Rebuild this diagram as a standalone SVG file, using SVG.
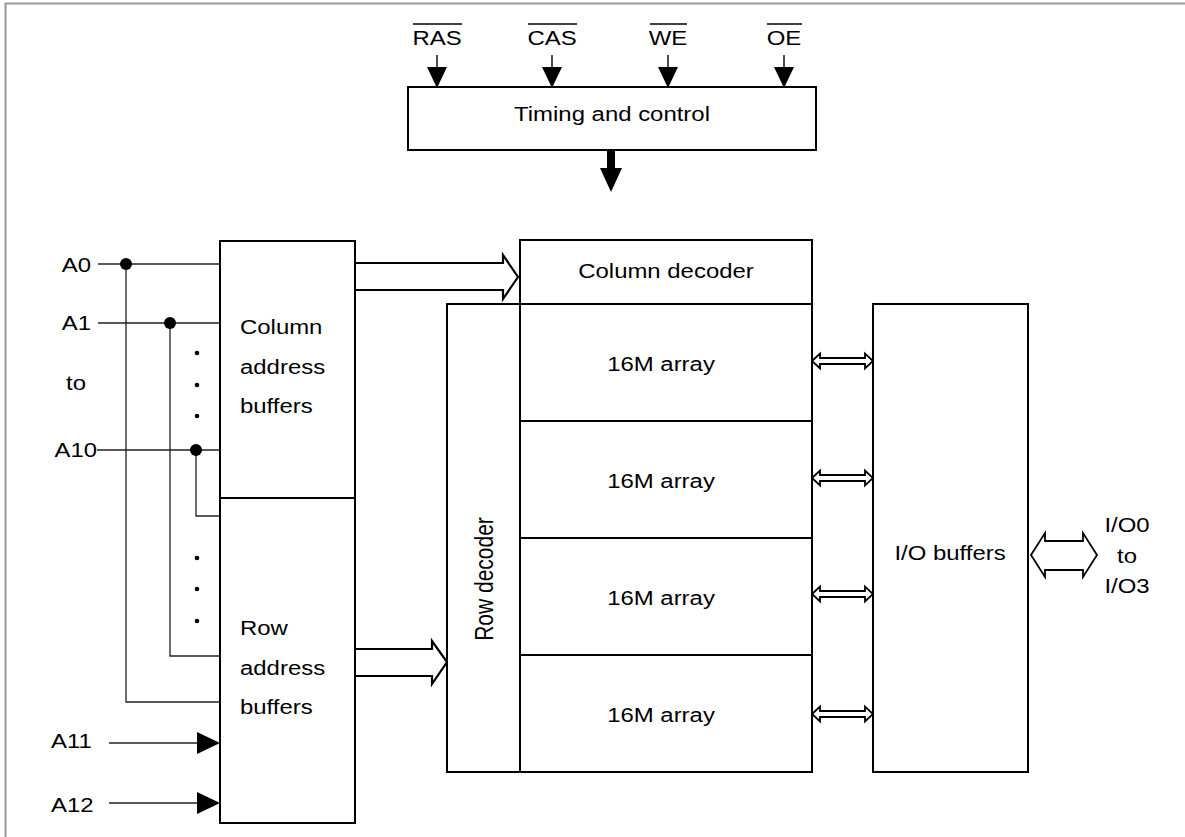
<svg xmlns="http://www.w3.org/2000/svg" width="1185" height="837" viewBox="0 0 1185 837">
<style>
  .box { fill: #fff; stroke: #000; stroke-width: 2; }
  .t { font-family: "Liberation Sans", Arial, Helvetica, sans-serif; font-size: 21px; fill: #000; }
  .m { text-anchor: middle; }
  .e { text-anchor: end; }
  .wire { fill: none; stroke: #222; stroke-width: 1.3; }
  .hollow { fill: none; stroke: #000; stroke-width: 2.2; stroke-linejoin: miter; }
  .bidi { fill: #fff; stroke: #000; stroke-width: 1.8; }
  .solid { fill: #000; stroke: none; }
  .ol { stroke: #000; stroke-width: 1.4; }
</style>
<rect x="0" y="0" width="1185" height="837" fill="#fff"/>
<path d="M5.5 837 V3.5 H1185" fill="none" stroke="#999" stroke-width="2"/>

<g id="connectors">
  <g id="ctrl-in">
    <line x1="437" y1="55" x2="437" y2="68" stroke="#000" stroke-width="1.4"/>
    <polygon class="solid" points="427,67 447,67 437,88"/>
    <line x1="552" y1="55" x2="552" y2="68" stroke="#000" stroke-width="1.4"/>
    <polygon class="solid" points="542,67 562,67 552,88"/>
    <line x1="668" y1="55" x2="668" y2="68" stroke="#000" stroke-width="1.4"/>
    <polygon class="solid" points="658,67 678,67 668,88"/>
    <line x1="784" y1="55" x2="784" y2="68" stroke="#000" stroke-width="1.4"/>
    <polygon class="solid" points="774,67 794,67 784,88"/>
  </g>
  <polygon class="solid" points="607,150 615,150 615,168 622,168 611,192 600,168 607,168"/>
  <path class="wire" d="M98 264 H220 M126 264 V702 H220"/>
  <path class="wire" d="M98 323 H220 M170 323 V656 H220"/>
  <path class="wire" d="M97 450 H220 M196 450 V516 H220"/>
  <circle cx="126" cy="264" r="6" fill="#000"/>
  <circle cx="170" cy="323" r="6" fill="#000"/>
  <circle cx="196" cy="450" r="6" fill="#000"/>
  <g fill="#000">
    <circle cx="197" cy="353" r="2.3"/>
    <circle cx="197" cy="385" r="2.3"/>
    <circle cx="197" cy="416" r="2.3"/>
    <circle cx="197" cy="558" r="2.3"/>
    <circle cx="197" cy="589" r="2.3"/>
    <circle cx="197" cy="621" r="2.3"/>
  </g>
  <line class="wire" x1="109" y1="743" x2="200" y2="743"/>
  <polygon class="solid" points="197,732 220,743 197,754"/>
  <line class="wire" x1="109" y1="803" x2="200" y2="803"/>
  <polygon class="solid" points="197,792 220,803 197,814"/>
  <polyline class="hollow" points="356,263 503,263 503,255 518,277 503,299 503,290 356,290"/>
  <polyline class="hollow" points="356,649 432,649 432,641 447,662 432,684 432,676 356,676"/>
  <polygon class="bidi" points="812,361 820,353.5 820,358 865,358 865,353.5 873,361 865,368.5 865,364 820,364 820,368.5"/>
  <polygon class="bidi" points="812,478 820,470.5 820,475 865,475 865,470.5 873,478 865,485.5 865,481 820,481 820,485.5"/>
  <polygon class="bidi" points="812,594 820,586.5 820,591 865,591 865,586.5 873,594 865,601.5 865,597 820,597 820,601.5"/>
  <polygon class="bidi" points="812,714 820,706.5 820,711 865,711 865,706.5 873,714 865,721.5 865,717 820,717 820,721.5"/>
  <polygon class="bidi" stroke-width="2.2" points="1031,555 1045,533 1045,541 1083,541 1083,533 1097,555 1083,577 1083,570 1045,570 1045,577"/>
</g>

<g id="timing">
  <rect class="box" x="408" y="87" width="408" height="63"/>
  <text class="t m" transform="translate(612,121) scale(1.14,1)">Timing and control</text>
</g>

<g id="ctrl-labels">
  <text class="t m" transform="translate(437,45) scale(1.14,1)">RAS</text>
  <text class="t m" transform="translate(552,45) scale(1.14,1)">CAS</text>
  <text class="t m" transform="translate(668,45) scale(1.14,1)">WE</text>
  <text class="t m" transform="translate(784,45) scale(1.14,1)">OE</text>
  <line class="ol" x1="413" y1="24" x2="462" y2="24"/>
  <line class="ol" x1="528" y1="24" x2="577" y2="24"/>
  <line class="ol" x1="650" y1="24" x2="687" y2="24"/>
  <line class="ol" x1="767" y1="24" x2="802" y2="24"/>
</g>

<g id="addr-labels">
  <text class="t e" transform="translate(91,272) scale(1.14,1)">A0</text>
  <text class="t e" transform="translate(91,330) scale(1.14,1)">A1</text>
  <text class="t m" transform="translate(76,390) scale(1.14,1)">to</text>
  <text class="t e" transform="translate(97,457) scale(1.14,1)">A10</text>
  <text class="t" transform="translate(51,748) scale(1.14,1)">A11</text>
  <text class="t" transform="translate(51,812) scale(1.14,1)">A12</text>
</g>

<g id="col-addr-buffers">
  <rect class="box" x="220" y="241" width="135" height="257"/>
  <text class="t" transform="translate(240,334) scale(1.14,1)">Column</text>
  <text class="t" transform="translate(240,374) scale(1.14,1)">address</text>
  <text class="t" transform="translate(240,413) scale(1.14,1)">buffers</text>
</g>

<g id="row-addr-buffers">
  <rect class="box" x="220" y="498" width="135" height="325"/>
  <text class="t" transform="translate(240,635) scale(1.14,1)">Row</text>
  <text class="t" transform="translate(240,675) scale(1.14,1)">address</text>
  <text class="t" transform="translate(240,714) scale(1.14,1)">buffers</text>
</g>

<g id="column-decoder">
  <rect class="box" x="520" y="240" width="292" height="64"/>
  <text class="t m" transform="translate(666,278) scale(1.14,1)">Column decoder</text>
</g>

<g id="row-decoder">
  <rect class="box" x="447" y="304" width="73" height="468"/>
  <text class="t m" transform="translate(493,579) scale(1.2,1) rotate(-90)">Row decoder</text>
</g>

<g id="array1">
  <rect class="box" x="520" y="304" width="292" height="117"/>
  <text class="t m" transform="translate(661,371) scale(1.14,1)">16M array</text>
</g>
<g id="array2">
  <rect class="box" x="520" y="421" width="292" height="117"/>
  <text class="t m" transform="translate(661,488) scale(1.14,1)">16M array</text>
</g>
<g id="array3">
  <rect class="box" x="520" y="538" width="292" height="117"/>
  <text class="t m" transform="translate(661,605) scale(1.14,1)">16M array</text>
</g>
<g id="array4">
  <rect class="box" x="520" y="655" width="292" height="117"/>
  <text class="t m" transform="translate(661,722) scale(1.14,1)">16M array</text>
</g>

<g id="io-buffers">
  <rect class="box" x="873" y="304" width="155" height="468"/>
  <text class="t m" transform="translate(950,560) scale(1.14,1)">I/O buffers</text>
</g>

<g id="io-labels">
  <text class="t m" transform="translate(1127,532) scale(1.14,1)">I/O0</text>
  <text class="t m" transform="translate(1127,563) scale(1.14,1)">to</text>
  <text class="t m" transform="translate(1127,593) scale(1.14,1)">I/O3</text>
</g>
</svg>
